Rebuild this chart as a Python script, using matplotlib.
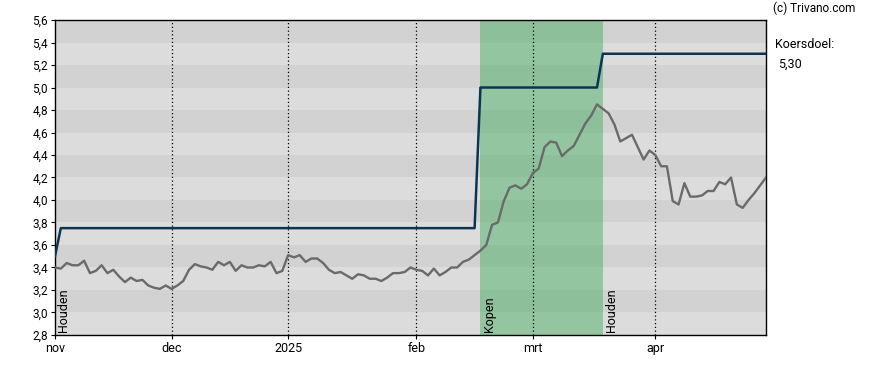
import numpy as np
import pandas as pd
import matplotlib
matplotlib.use('Agg')
import matplotlib.pyplot as plt

#---------------------------------------------
#data
#---------------------------------------------
holidays = ['2024-12-25', '2024-12-26', '2025-01-01', '2025-04-18', '2025-04-21']
days = pd.bdate_range('2024-11-04', '2025-04-30', freq='C', holidays=holidays)

koers = [3.40, 3.39, 3.44, 3.42, 3.42, 3.46, 3.35, 3.37, 3.42, 3.35,
         3.38, 3.32, 3.27, 3.31, 3.28, 3.29, 3.24, 3.22, 3.21, 3.24,
         3.21, 3.24, 3.28, 3.38, 3.43, 3.41, 3.40, 3.38, 3.45, 3.42,
         3.45, 3.37, 3.42, 3.40, 3.40, 3.42, 3.41, 3.45, 3.35, 3.37,
         3.51, 3.49, 3.51, 3.45, 3.48, 3.48, 3.44, 3.38, 3.35, 3.36,
         3.33, 3.30, 3.34, 3.33, 3.30, 3.30, 3.28, 3.31, 3.35, 3.35,
         3.36, 3.40, 3.38, 3.37, 3.33, 3.39, 3.33, 3.36, 3.40, 3.40,
         3.45, 3.47, 3.51, 3.55, 3.60, 3.78, 3.80, 3.99, 4.11, 4.13,
         4.10, 4.14, 4.24, 4.28, 4.47, 4.52, 4.51, 4.39, 4.44, 4.48,
         4.58, 4.68, 4.75, 4.85, 4.81, 4.77, 4.67, 4.52, 4.55, 4.58,
         4.47, 4.36, 4.44, 4.40, 4.30, 4.30, 3.99, 3.96, 4.15, 4.03,
         4.03, 4.04, 4.08, 4.08, 4.16, 4.14, 4.20, 3.96, 3.93, 4.00,
         4.06, 4.13, 4.20]

#koersdoel (target price) changes, as trading day index
doel_idx = [0, 1, 72, 73, 93, 94, 122]
doel_val = [3.50, 3.75, 3.75, 5.00, 5.00, 5.30, 5.30]

#advice periods (start index, end index, label)
advies = [(0, 73, 'Houden'), (73, 94, 'Kopen'), (94, 122, 'Houden')]

month_names = {11: 'nov', 12: 'dec', 1: '2025', 2: 'feb', 3: 'mrt', 4: 'apr'}
y_ticks = np.arange(2.8, 5.61, 0.2)

#---------------------------------------------
#plot
#---------------------------------------------
plt.rcParams['font.family'] = ['Roboto', 'DejaVu Sans']

x = np.arange(len(days))
month_idx = [i for i in range(len(days)) if i == 0 or days[i].month != days[i-1].month]

fig = plt.figure(figsize=(8.88, 3.70), dpi=100)
ax = fig.add_axes([55/888, 35/370, 711/888, 315/370])
ax.set_facecolor('#dcdcdc')

#stripes
for k in range(len(y_ticks) - 1):
	if k % 2 == 1:
		ax.axhspan(y_ticks[k], y_ticks[k+1], color='#d2d2d2', lw=0, zorder=0)

#advice shading
for start, end, label in advies:
	if label == 'Kopen':
		ax.axvspan(start, end, color='#3caa5a', alpha=0.45, lw=0, zorder=1)
	ax.text(start + 0.4, 2.83, label, rotation=90, fontsize=9, ha='left', va='bottom', zorder=5)

#month lines
for i in month_idx[1:]:
	ax.axvline(i, color='black', ls=(0, (1, 2)), lw=0.9, zorder=2)

ax.plot(x, koers, color='#6a6a6a', lw=1.7, zorder=3)
ax.plot(doel_idx, doel_val, color='#0d3553', lw=1.8, zorder=4)

ax.set_xlim(0, len(days) - 1)
ax.set_ylim(2.8, 5.6)
ax.set_yticks(y_ticks)
ax.set_yticklabels(['{:.1f}'.format(v).replace('.', ',') for v in y_ticks], fontsize=8.5)
ax.set_xticks(month_idx)
ax.set_xticklabels([month_names[days[i].month] for i in month_idx], fontsize=9)
ax.tick_params(axis='both', length=3, width=0.8, pad=2)
for s in ax.spines.values():
	s.set_linewidth(1.0)

fig.text(773/888, 1 - 8/370, '(c) Trivano.com', fontsize=8.5, va='center', ha='left')
fig.text(775/888, 1 - 45/370, 'Koersdoel:', fontsize=9, va='center', ha='left')
fig.text(778/888, 1 - 64/370, '{:.2f}'.format(doel_val[-1]).replace('.', ','), fontsize=9, va='center', ha='left')

fig.savefig('out.png', dpi=100)
